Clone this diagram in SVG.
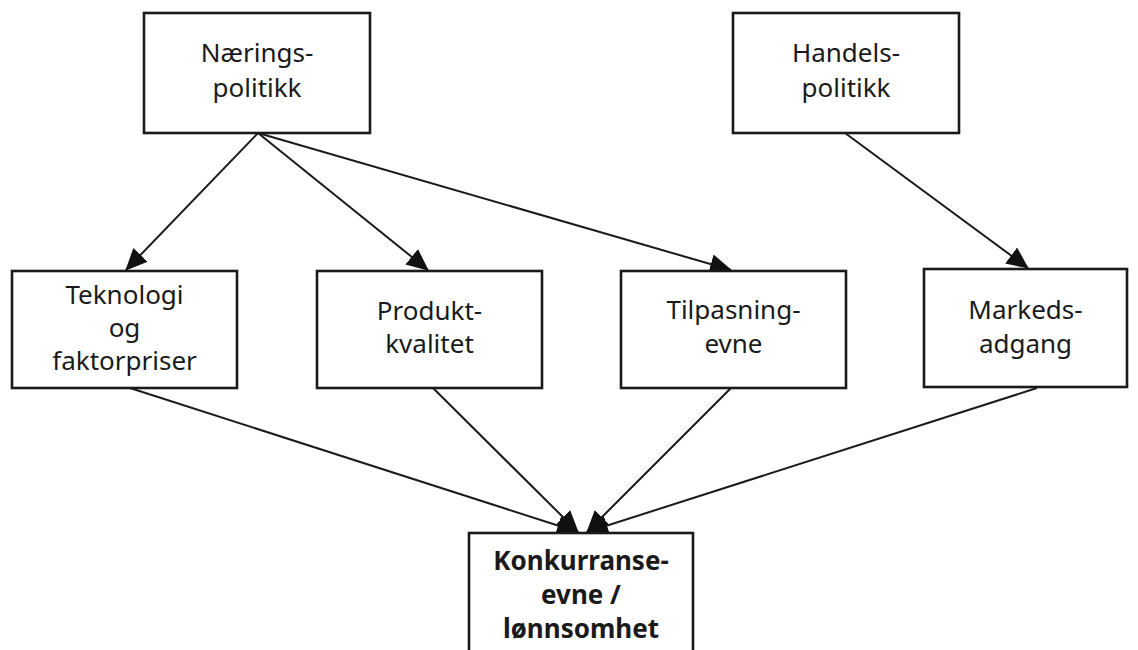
<svg xmlns="http://www.w3.org/2000/svg" width="1138" height="650" viewBox="0 0 1138 650">
<style>
.box{fill:#fff;stroke:#1a1a1a;stroke-width:2.6}
.t{font-family:"Noto Sans","Liberation Sans",sans-serif;font-size:26px;fill:#1a1a1a;text-anchor:middle}
.b{font-weight:bold}
.c{stroke:#1a1a1a;stroke-width:2;fill:none;marker-end:url(#ah)}
</style>
<defs>
<marker id="ah" markerUnits="userSpaceOnUse" markerWidth="22" markerHeight="20" refX="21" refY="10" orient="auto" viewBox="0 0 22 20">
<path d="M0,0 L22,10 L0,20 Z" fill="#111"/>
</marker>
</defs>
<rect width="1138" height="650" fill="#fff"/>
<g id="connectors">
<line class="c" x1="258" y1="133" x2="126" y2="270"/>
<line class="c" x1="258" y1="133" x2="428" y2="270"/>
<line class="c" x1="258" y1="133" x2="731" y2="270"/>
<line class="c" x1="845" y1="133" x2="1028" y2="268"/>
<line class="c" x1="130" y1="388" x2="578" y2="532"/>
<line class="c" x1="433" y1="388" x2="578" y2="532"/>
<line class="c" x1="731" y1="388" x2="587" y2="532"/>
<line class="c" x1="1037" y1="388" x2="587" y2="532"/>
</g>
<g id="naeringspolitikk">
<rect class="box" x="144" y="13" width="226" height="120"/>
<text class="t" x="257" y="62">Nærings-</text>
<text class="t" x="257" y="97">politikk</text>
</g>
<g id="handelspolitikk">
<rect class="box" x="733" y="13" width="226" height="120"/>
<text class="t" x="846" y="62">Handels-</text>
<text class="t" x="846" y="97">politikk</text>
</g>
<g id="teknologi">
<rect class="box" x="12" y="271" width="225" height="117"/>
<text class="t" x="124.5" y="304">Teknologi</text>
<text class="t" x="124.5" y="337">og</text>
<text class="t" x="124.5" y="370">faktorpriser</text>
</g>
<g id="produktkvalitet">
<rect class="box" x="317" y="271" width="225" height="117"/>
<text class="t" x="429.5" y="320">Produkt-</text>
<text class="t" x="429.5" y="353">kvalitet</text>
</g>
<g id="tilpasningevne">
<rect class="box" x="621" y="271" width="225" height="117"/>
<text class="t" x="733.5" y="319">Tilpasning-</text>
<text class="t" x="733.5" y="353">evne</text>
</g>
<g id="markedsadgang">
<rect class="box" x="924" y="269" width="203" height="118"/>
<text class="t" x="1025.5" y="319">Markeds-</text>
<text class="t" x="1025.5" y="353">adgang</text>
</g>
<g id="konkurranseevne">
<rect class="box" x="469" y="533" width="224" height="130"/>
<text class="t b" x="581" y="570">Konkurranse-</text>
<text class="t b" x="581" y="604">evne /</text>
<text class="t b" x="581" y="638">lønnsomhet</text>
</g>
</svg>
